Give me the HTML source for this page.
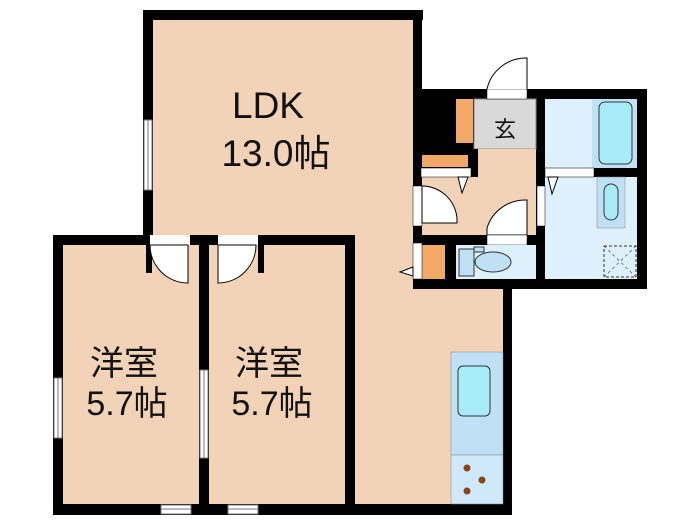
<!DOCTYPE html>
<html><head><meta charset="utf-8"><style>html,body{margin:0;padding:0;background:#fff}svg{display:block}</style></head>
<body>
<svg width="700" height="525" viewBox="0 0 700 525" xmlns="http://www.w3.org/2000/svg">
<g fill="#f2d3b7">
<rect x="153" y="20" width="260" height="230"/>
<rect x="153" y="240" width="350" height="265"/>
<rect x="413" y="285" width="90" height="10"/>
</g>
<g fill="#000">
<rect x="143" y="10" width="280" height="10"/>
<rect x="143" y="10" width="10" height="225"/>
<rect x="413" y="10" width="9" height="80"/>
<rect x="503" y="285" width="9" height="230"/>
<rect x="53" y="504" width="459" height="11"/>
<rect x="53" y="235" width="302" height="10"/>
<rect x="53" y="235" width="10" height="280"/>
<rect x="199" y="235" width="10" height="280"/>
<rect x="345" y="235" width="10" height="280"/>
<rect x="413" y="89" width="234" height="200"/>
</g>
<rect x="63" y="245" width="136" height="259" fill="#f2d3b7"/>
<rect x="209" y="245" width="136" height="259" fill="#f2d3b7"/>
<rect x="150" y="235" width="40" height="10" fill="#fff"/>
<rect x="146" y="245" width="6" height="28" fill="#000"/>
<path d="M150 245 A38 38 0 0 0 188 283 L188 245 Z" fill="#fff" stroke="#000" stroke-width="1"/>
<rect x="218" y="235" width="40" height="10" fill="#fff"/>
<rect x="258" y="245" width="6" height="28" fill="#000"/>
<path d="M218 245 L218 283 A38 38 0 0 0 256 245 Z" fill="#fff" stroke="#000" stroke-width="1"/>
<g fill="#fff" stroke="#777" stroke-width="1">
<rect x="144" y="120" width="8" height="70"/>
<rect x="54" y="378" width="8" height="60"/>
<rect x="200" y="370" width="8" height="88"/>
<rect x="161" y="505" width="30" height="9"/>
<rect x="228" y="505" width="30" height="9"/>
</g>
<g stroke="#777" stroke-width="1">
<line x1="148" y1="120" x2="148" y2="190"/><line x1="58" y1="378" x2="58" y2="438"/>
<line x1="204" y1="370" x2="204" y2="458"/><line x1="161" y1="509" x2="191" y2="509"/><line x1="228" y1="509" x2="258" y2="509"/>
</g>
<rect x="474" y="99" width="62" height="50" fill="#d9d9d9" stroke="#888" stroke-width="1"/>
<rect x="456" y="99" width="17" height="44" fill="#f2a866"/>
<rect x="487" y="60" width="40" height="39" fill="#fff"/>
<rect x="487" y="89" width="40" height="10" fill="#fff" stroke="#000" stroke-width="0.5"/>
<path d="M487 89 A40 40 0 0 1 527 58 L527 89" fill="#fff" stroke="#000" stroke-width="1"/>
<rect x="422" y="149" width="114" height="86" fill="#f2d3b7"/>
<rect x="422" y="149" width="56" height="28" fill="#000"/>
<rect x="422" y="155" width="46" height="12" fill="#f2a866"/>
<rect x="421" y="168" width="50" height="9" fill="#fff" stroke="#000" stroke-width="0.5"/>
<path d="M458 177 L468 177 L462 193 Z" fill="#fff" stroke="#000" stroke-width="1"/>
<rect x="413" y="186" width="9" height="40" fill="#fff" stroke="#000" stroke-width="0.5"/>
<path d="M422 186 A35 35 0 0 1 457 223 L422 223 Z" fill="#fff" stroke="#000" stroke-width="1"/>
<path d="M487 235 L487 228 A40 40 0 0 1 527 200 L527 235 Z" fill="#fff" stroke="#000" stroke-width="1"/>
<rect x="487" y="235" width="40" height="10" fill="#fff" stroke="#000" stroke-width="0.5"/>
<rect x="456" y="245" width="80" height="34" fill="#ddf0fb"/>
<rect x="459" y="249" width="15" height="27" fill="#bfe0f5" stroke="#333" stroke-width="1"/>
<rect x="474" y="247" width="10" height="5" fill="#bfe0f5" stroke="#333" stroke-width="1"/>
<ellipse cx="493" cy="262" rx="18" ry="10" fill="#bfe0f5" stroke="#333" stroke-width="1"/>
<rect x="422" y="245" width="23" height="34" fill="#f2a866"/>
<rect x="413" y="243" width="9" height="36" fill="#fff" stroke="#000" stroke-width="0.5"/>
<path d="M413 267 L400 272 L413 276 Z" fill="#fff" stroke="#000" stroke-width="1"/>
<rect x="545" y="99" width="92" height="69" fill="#ddf0fb"/>
<rect x="592" y="99" width="45" height="69" fill="#bfe0f5"/>
<rect x="599" y="102" width="33" height="62" rx="6" fill="#a8ecfa" stroke="#333" stroke-width="1"/>
<rect x="545" y="177" width="92" height="102" fill="#ddf0fb"/>
<rect x="597" y="177" width="28" height="51" fill="#bfe0f5" stroke="#888" stroke-width="0.5"/>
<rect x="604" y="184" width="14" height="36" rx="7" fill="#a8ecfa" stroke="#333" stroke-width="1"/>
<rect x="545" y="168" width="49" height="9" fill="#fff" stroke="#000" stroke-width="0.5"/>
<path d="M548 177 L558 177 L552 194 Z" fill="#fff" stroke="#000" stroke-width="1"/>
<rect x="537" y="186" width="8" height="40" fill="#fff" stroke="#000" stroke-width="0.5"/>
<rect x="604" y="246" width="32" height="31" fill="none" stroke="#333" stroke-width="1" stroke-dasharray="3,2"/>
<path d="M604 246 L636 277 M636 246 L604 277" stroke="#333" stroke-width="0.6" stroke-dasharray="3,3"/>
<rect x="451" y="352" width="52" height="103" fill="#bfe0f5" stroke="#888" stroke-width="0.5"/>
<rect x="458" y="366" width="32" height="50" rx="5" fill="#a8ecfa" stroke="#333" stroke-width="1"/>
<rect x="451" y="455" width="52" height="49" fill="#cfe8fa" stroke="#888" stroke-width="0.5"/>
<g fill="#8b4513"><circle cx="467" cy="468" r="3.5"/><circle cx="482" cy="480" r="3.5"/><circle cx="467" cy="491" r="3.5"/></g>
<g font-family="'Liberation Sans','Noto Sans CJK JP',sans-serif" fill="#111" text-anchor="middle">
<text x="268" y="118" font-size="37">LDK</text>
<text x="276" y="166" font-size="37">13.0帖</text>
<text x="124" y="375" font-size="34">洋室</text>
<text x="127" y="415" font-size="34">5.7帖</text>
<text x="269" y="375" font-size="34">洋室</text>
<text x="272" y="415" font-size="34">5.7帖</text>
<text x="505" y="137" font-size="22">玄</text>
</g>
</svg>
</body></html>
